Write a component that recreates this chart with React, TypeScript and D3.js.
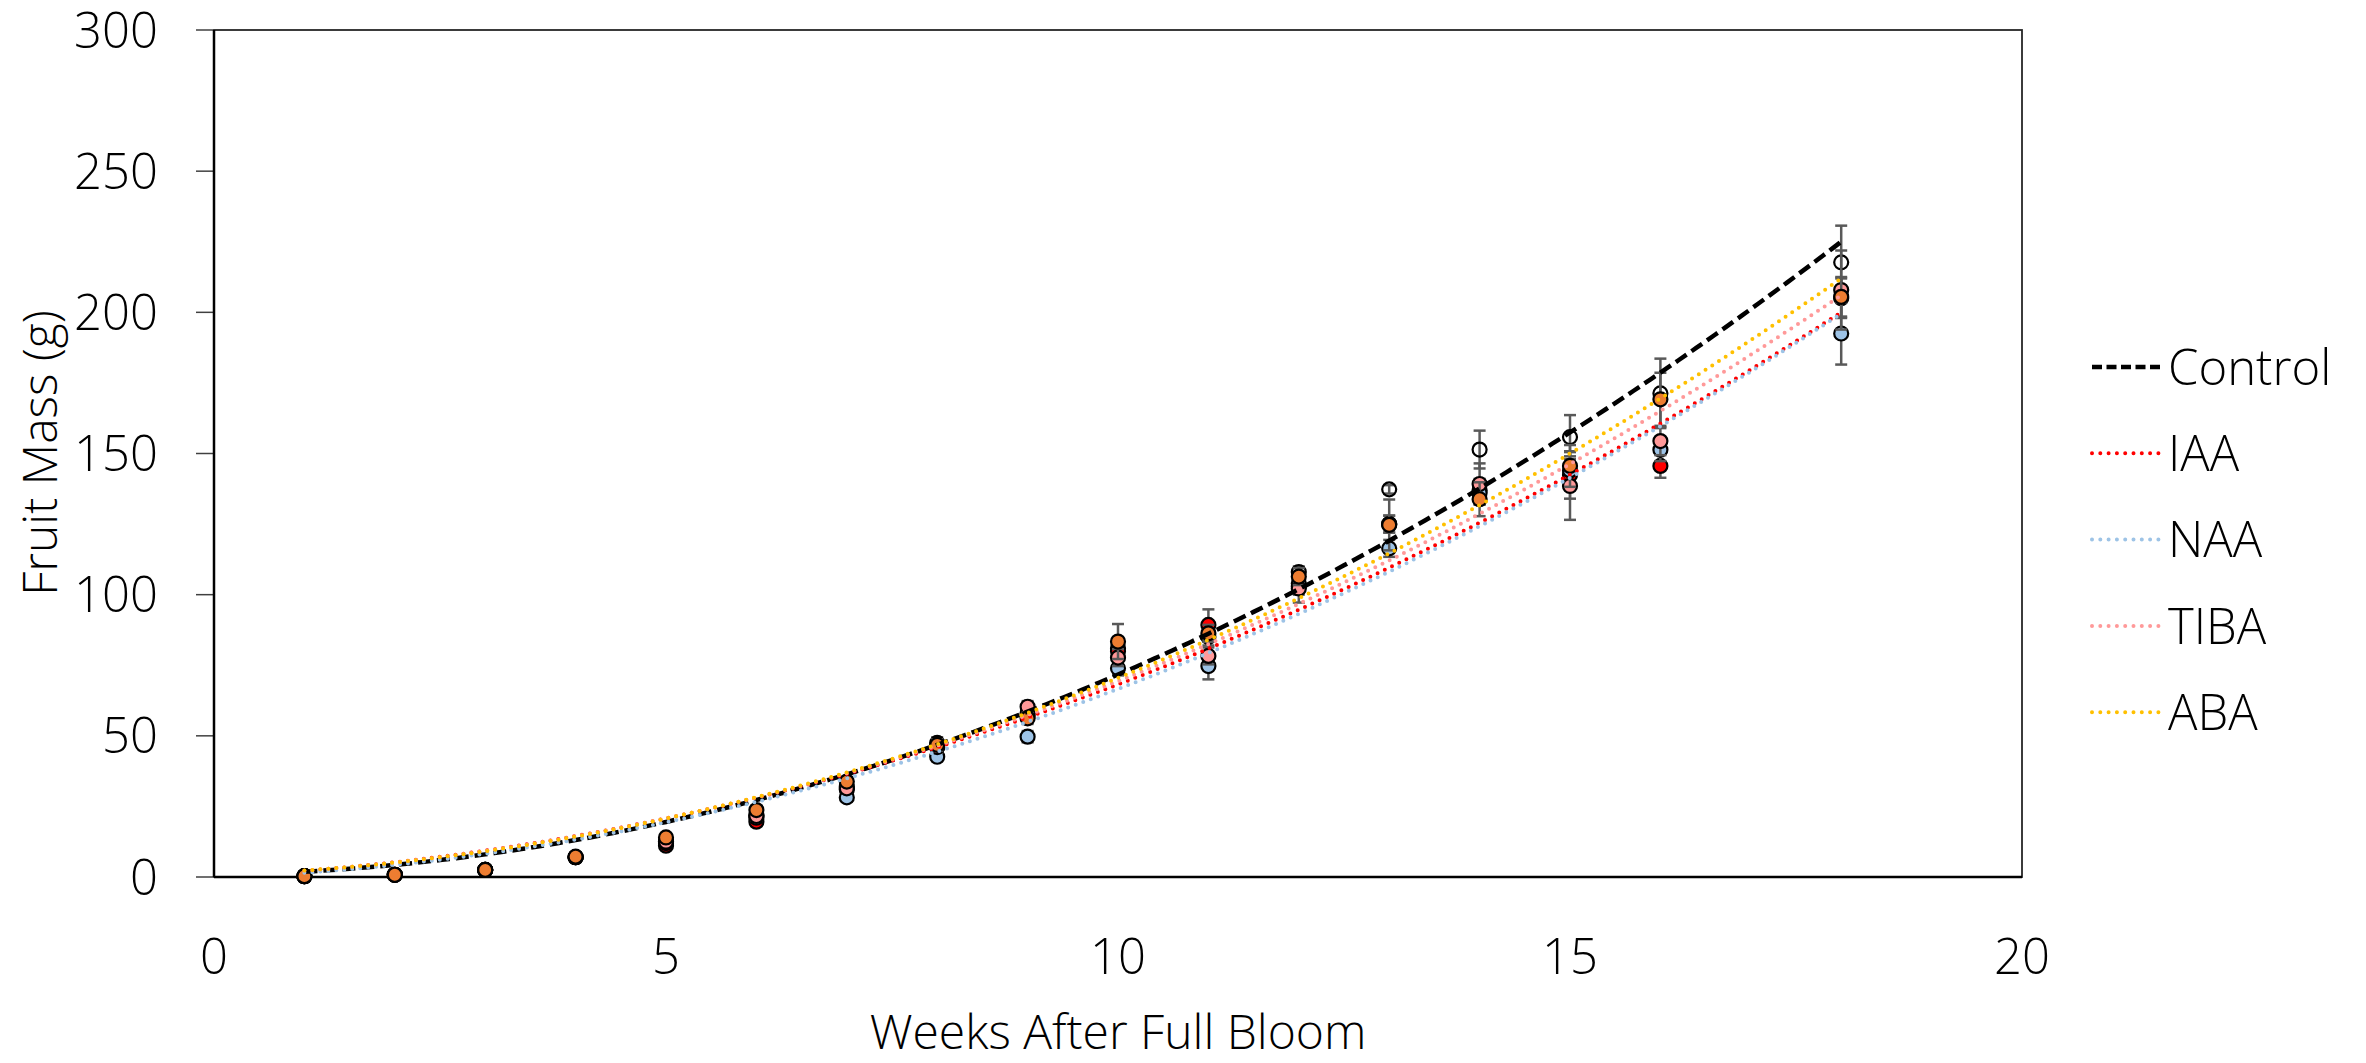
import { useEffect, useRef } from 'react';
import * as d3 from 'd3';

// weeks after full bloom (no sample at week 17)
const weeks = [1, 2, 3, 4, 5, 6, 7, 8, 9, 10, 11, 12, 13, 14, 15, 16, 18];

const controlMass = [0.3, 0.8, 2.5, 7, 12.5, 22, 32, 47.5, 58, 81, 85, 108, 137.3, 151.4, 155.8, 171.3, 217.7];
const controlErr = [0.2, 0.2, 0.4, 0.8, 1, 1.5, 1.5, 2, 2, 3, 3, 2, 1.5, 6.7, 7.8, 12.3, 13];

const iaaMass = [0.3, 0.8, 2.5, 7, 11.1, 19.6, 31, 46, 57, 80, 89.3, 103, 125, 137, 142.4, 145.6, 205];
const iaaErr = [0.2, 0.2, 0.4, 0.8, 1, 1.5, 1.5, 2, 2, 3, 5.5, 3, 3, 4, 8.4, 4.2, 7];

const naaMass = [0.3, 0.8, 2.5, 7, 12, 21, 28.2, 42.6, 49.7, 73.9, 74.7, 104, 116.4, 136, 144, 151.3, 192.5];
const naaErr = [0.2, 0.2, 0.4, 0.8, 1, 1.5, 1.5, 1.5, 2, 2.5, 4.7, 3, 3, 4, 5, 4, 11];

const tibaMass = [0.3, 0.8, 2.5, 7, 12.5, 21.6, 31.4, 46, 60.3, 77.7, 78.3, 102.2, 125, 139.2, 138.5, 154.4, 207.9];
const tibaErr = [0.2, 0.2, 0.4, 0.8, 1, 1.5, 1.5, 2, 2, 3, 3, 5, 3, 7.3, 12, 5, 14];

const abaMass = [0.3, 0.8, 2.5, 7.2, 14, 23.7, 33.8, 46.8, 56.2, 83.4, 86.3, 106.4, 124.7, 133.8, 145.6, 169.2, 205.5];
const abaErr = [0.2, 0.2, 0.4, 0.8, 1, 1.5, 1.5, 2, 2, 6.2, 3, 3, 9, 6, 7.4, 9.4, 7];

// polynomial (order 2) trendline coefficients y = a x^2 + b x + c
const trendA = [0.671, 0.538, 0.552, 0.566, 0.595];
const trendB = [0.375, 1.414, 1.161, 1.236, 1.03];
const trendC = [0.854, 0.25, -0.213, 0.4, 0.675];
const trendRange = [1, 18];

const seriesNames = ['Control', 'IAA', 'NAA', 'TIBA', 'ABA'];
const markerFills = ['none', '#FF0000', '#9DC3E6', '#FF9999', '#ED7D31'];
const lineColors = ['#000000', '#FF0000', '#9DC3E6', '#FF9999', '#FFC000'];

const xTicks = [0, 5, 10, 15, 20];
const yTicks = [0, 50, 100, 150, 200, 250, 300];

const FONT = "'Segoe UI Light', 'Open Sans', sans-serif";

export default function App() {
  const svgRef = useRef<SVGSVGElement>(null);

  useEffect(() => {
    if (!svgRef.current) return;
    const width = 2366;
    const height = 1063;
    const margin = { top: 30, right: 344, bottom: 186, left: 214 };
    const chartWidth = width - margin.left - margin.right;
    const chartHeight = height - margin.top - margin.bottom;

    const svg = d3.select(svgRef.current);
    svg.selectAll('*').remove();
    svg.attr('width', width).attr('height', height);

    const g = svg.append('g').attr('transform', `translate(${margin.left},${margin.top})`);

    const xScale = d3.scaleLinear().domain([0, 20]).range([0, chartWidth]);
    const yScale = d3.scaleLinear().domain([0, 300]).range([chartHeight, 0]);

    // plot border
    g.append('rect')
      .attr('x', 0).attr('y', 0)
      .attr('width', chartWidth).attr('height', chartHeight)
      .attr('fill', 'none')
      .attr('stroke', '#262626')
      .attr('stroke-width', 1.8);

    // y ticks + labels
    yTicks.forEach(v => {
      g.append('line')
        .attr('x1', -18).attr('x2', 0)
        .attr('y1', yScale(v)).attr('y2', yScale(v))
        .attr('stroke', '#404040')
        .attr('stroke-width', 1.5);
      g.append('text')
        .attr('x', -56)
        .attr('y', yScale(v))
        .attr('dy', '0.36em')
        .attr('text-anchor', 'end')
        .style('font-family', FONT)
        .style('font-weight', 300)
        .style('font-size', '49px')
        .attr('fill', '#000')
        .text(v);
    });

    // x labels (no tick marks)
    xTicks.forEach(v => {
      g.append('text')
        .attr('x', xScale(v))
        .attr('y', chartHeight + 97)
        .attr('text-anchor', 'middle')
        .style('font-family', FONT)
        .style('font-weight', 300)
        .style('font-size', '49px')
        .attr('fill', '#000')
        .text(v);
    });

    // axis lines
    g.append('line')
      .attr('x1', 0).attr('x2', chartWidth)
      .attr('y1', chartHeight).attr('y2', chartHeight)
      .attr('stroke', '#000').attr('stroke-width', 2.5);
    g.append('line')
      .attr('x1', 0).attr('x2', 0)
      .attr('y1', 0).attr('y2', chartHeight)
      .attr('stroke', '#000').attr('stroke-width', 2.5);

    // axis titles
    svg.append('text')
      .attr('x', margin.left + chartWidth / 2)
      .attr('y', 1049)
      .attr('text-anchor', 'middle')
      .style('font-family', FONT)
      .style('font-weight', 300)
      .style('font-size', '48px')
      .text('Weeks After Full Bloom');

    svg.append('text')
      .attr('transform', `translate(57,453) rotate(-90)`)
      .attr('text-anchor', 'middle')
      .style('font-family', FONT)
      .style('font-weight', 300)
      .style('font-size', '48px')
      .text('Fruit Mass (g)');

    const masses = [controlMass, iaaMass, naaMass, tibaMass, abaMass];
    const errs = [controlErr, iaaErr, naaErr, tibaErr, abaErr];

    // error bars + markers, series by series
    masses.forEach((vals, si) => {
      const eg = g.append('g');
      vals.forEach((v, i) => {
        const e = errs[si][i];
        const cx = xScale(weeks[i]);
        if (e >= 1.5) {
          eg.append('line')
            .attr('x1', cx).attr('x2', cx)
            .attr('y1', yScale(v + e)).attr('y2', yScale(v - e))
            .attr('stroke', '#595959').attr('stroke-width', 2.5);
          [v + e, v - e].forEach(c => {
            eg.append('line')
              .attr('x1', cx - 6).attr('x2', cx + 6)
              .attr('y1', yScale(c)).attr('y2', yScale(c))
              .attr('stroke', '#595959').attr('stroke-width', 2.5);
          });
        }
      });
      vals.forEach((v, i) => {
        g.append('circle')
          .attr('cx', xScale(weeks[i]))
          .attr('cy', yScale(v))
          .attr('r', 7)
          .attr('fill', markerFills[si])
          .attr('stroke', '#000')
          .attr('stroke-width', 2.2);
      });
    });

    // trendlines on top
    const xs = d3.range(trendRange[0], trendRange[1] + 0.001, 0.1);
    seriesNames.forEach((_, si) => {
      const f = (x: number) => trendA[si] * x * x + trendB[si] * x + trendC[si];
      const line = d3.line<number>()
        .x(x => xScale(x))
        .y(x => yScale(f(x)));
      const path = g.append('path')
        .attr('d', line(xs))
        .attr('fill', 'none')
        .attr('stroke', lineColors[si]);
      if (si === 0) {
        path.attr('stroke-width', 4.5).attr('stroke-dasharray', '13 6');
      } else {
        path.attr('stroke-width', 4).attr('stroke-linecap', 'round').attr('stroke-dasharray', '0 8');
      }
    });

    // legend
    const legend = svg.append('g');
    seriesNames.forEach((name, i) => {
      const ly = 367 + i * 86.3;
      const l = legend.append('line')
        .attr('x1', 2092).attr('x2', 2160)
        .attr('y1', ly).attr('y2', ly)
        .attr('stroke', lineColors[i]);
      if (i === 0) {
        l.attr('stroke-width', 4.5).attr('stroke-dasharray', '10 4.5');
      } else {
        l.attr('stroke-width', 4).attr('stroke-linecap', 'round').attr('stroke-dasharray', '0 8.3');
      }
      legend.append('text')
        .attr('x', 2168)
        .attr('y', ly)
        .attr('dy', '0.36em')
        .style('font-family', FONT)
        .style('font-weight', 300)
        .style('font-size', '49px')
        .text(name);
    });
  }, []);

  return (
    <div style={{ position: 'absolute', left: 0, top: 0, background: '#fff' }}>
      <svg ref={svgRef} style={{ display: 'block' }}></svg>
    </div>
  );
}
